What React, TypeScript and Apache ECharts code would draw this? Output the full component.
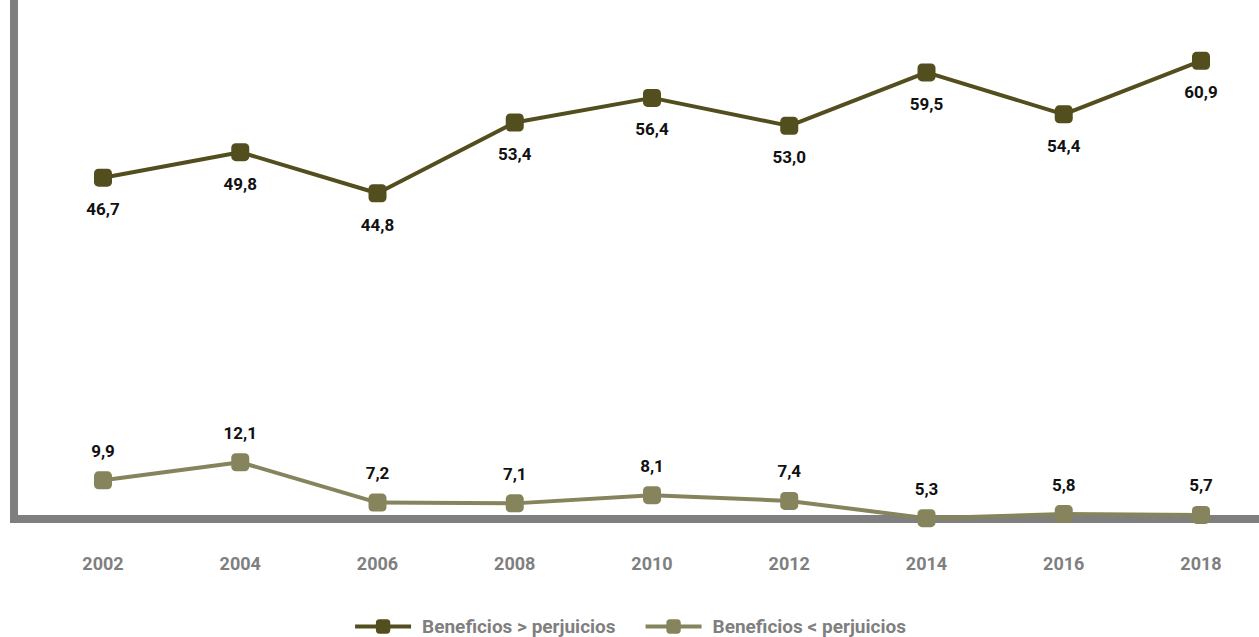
import React, { useEffect, useRef } from "react";
import * as echarts from "echarts";

const years = ["2002", "2004", "2006", "2008", "2010", "2012", "2014", "2016", "2018"];
const beneficiosMayor = [46.7, 49.8, 44.8, 53.4, 56.4, 53.0, 59.5, 54.4, 60.9];
const beneficiosMenor = [9.9, 12.1, 7.2, 7.1, 8.1, 7.4, 5.3, 5.8, 5.7];
const seriesNames = ["Beneficios > perjuicios", "Beneficios < perjuicios"];

const FONT = "Roboto";
const fmt = (v: number) => v.toFixed(1).replace(".", ",");

export default function App() {
  const ref = useRef<HTMLDivElement>(null);
  useEffect(() => {
    if (!ref.current) return;
    const chart = echarts.init(ref.current, undefined, { renderer: "svg" });
    chart.setOption({
      animation: false,
      grid: { left: 103, right: 58, top: 0, bottom: 118 },
      xAxis: {
        type: "category",
        data: years,
        boundaryGap: false,
        axisLine: { show: false },
        axisTick: { show: false },
        axisLabel: {
          margin: 35,
          color: "#7f7f7f",
          fontFamily: FONT,
          fontWeight: "bold",
          fontSize: 18,
        },
      },
      yAxis: {
        type: "value",
        min: 5.2,
        max: 68.3,
        show: false,
        splitLine: { show: false },
      },
      legend: {
        bottom: -4,
        left: "center",
        itemWidth: 56,
        itemHeight: 18,
        itemGap: 28,
        lineStyle: { width: 4 },
        textStyle: {
          color: "#7f7f7f",
          fontFamily: FONT,
          fontWeight: "bold",
          fontSize: 19,
          padding: [0, 0, 0, 6],
        },
        data: seriesNames,
      },
      graphic: [
        { type: "rect", z: 0, shape: { x: 10, y: 0, width: 8, height: 523 }, style: { fill: "#7f7f7f" } },
        { type: "rect", z: 0, shape: { x: 10, y: 515, width: 1249, height: 8 }, style: { fill: "#7f7f7f" } },
      ],
      series: [
        {
          name: seriesNames[0],
          type: "line",
          data: beneficiosMayor,
          symbol: "roundRect",
          symbolSize: 18,
          itemStyle: { color: "#524e1e" },
          lineStyle: { color: "#524e1e", width: 4 },
          z: 3,
          label: {
            show: true,
            position: "bottom",
            distance: 14,
            color: "#111",
            fontFamily: FONT,
            fontWeight: "bold",
            fontSize: 17,
            formatter: (p: any) => fmt(p.value),
          },
        },
        {
          name: seriesNames[1],
          type: "line",
          data: beneficiosMenor,
          symbol: "roundRect",
          symbolSize: 18,
          itemStyle: { color: "#86845c" },
          lineStyle: { color: "#86845c", width: 4 },
          z: 3,
          label: {
            show: true,
            position: "top",
            distance: 12,
            color: "#111",
            fontFamily: FONT,
            fontWeight: "bold",
            fontSize: 17,
            formatter: (p: any) => fmt(p.value),
          },
        },
      ],
    });
    return () => chart.dispose();
  }, []);
  return <div ref={ref} style={{ width: 1259, height: 637, position: "absolute", left: 0, top: 0 }} />;
}
